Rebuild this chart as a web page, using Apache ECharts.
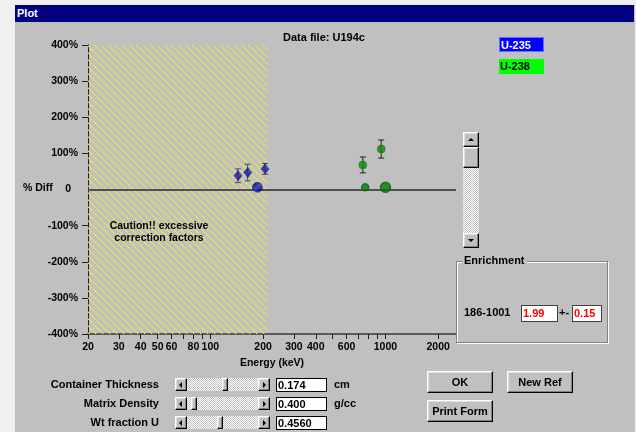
<!DOCTYPE html>
<html>
<head>
<meta charset="utf-8">
<title>Plot</title>
<script src="https://cdn.jsdelivr.net/npm/echarts@6/dist/echarts.min.js"></script>
<style>
html,body{margin:0;padding:0;background:#f0f0f0;}
#win{position:absolute;left:0;top:0;width:636px;height:432px;overflow:hidden;
  font-family:"Liberation Sans",Arial,sans-serif;font-weight:bold;font-size:11px;color:#000;}
#chart{position:absolute;left:0;top:0;width:636px;height:432px;}
.abs{position:absolute;white-space:nowrap;}
.strip{position:absolute;background:#f0f0f0;}
#title{position:absolute;left:15px;top:5px;width:619px;height:17px;background:#000080;color:#fff;
  line-height:17px;padding-left:2px;box-sizing:border-box;}
.legend{position:absolute;width:45px;height:15px;line-height:15px;box-sizing:border-box;padding-left:1px;}
.btn{position:absolute;box-sizing:border-box;background:#c0c0c0;border:1px solid;
  border-color:#fff #000 #000 #fff;box-shadow:inset -1px -1px #808080,inset 1px 1px #dfdfdf;text-align:center;}
.edit{position:absolute;box-sizing:border-box;background:#fff;border:1px solid #000;padding-left:1px;}
.track{position:absolute;box-sizing:border-box;
  background:repeating-conic-gradient(#c0c0c0 0 25%,#ffffff 0 50%) 0 0/2px 2px;}
.tri{position:absolute;width:0;height:0;}
.tl{border-top:3px solid transparent;border-bottom:3px solid transparent;border-right:3px solid #000;}
.tr{border-top:3px solid transparent;border-bottom:3px solid transparent;border-left:3px solid #000;}
.tu{border-left:3px solid transparent;border-right:3px solid transparent;border-bottom:3px solid #000;}
.td{border-left:3px solid transparent;border-right:3px solid transparent;border-top:3px solid #000;}
#grp{position:absolute;left:456px;top:261px;width:152px;height:82px;box-sizing:border-box;
  border:1px solid #808080;box-shadow:1px 1px #fff,inset 1px 1px #fff;}
.lbl{position:absolute;white-space:nowrap;text-align:right;width:120px;line-height:13px;}
</style>
</head>
<body>
<div id="win">
  <div id="chart"></div>

  <div class="strip" style="left:0;top:0;width:15px;height:432px"></div>
  <div class="strip" style="left:0;top:0;width:636px;height:5px"></div>
  <div class="strip" style="left:635px;top:0;width:1px;height:432px"></div>
  <div id="title">Plot</div>

  <div class="abs" style="left:283px;top:31px;line-height:13px">Data file: U194c</div>

  <div class="legend" style="left:499px;top:37px;background:#0000ff;color:#fff;border:1px solid #6a6aff">U-235</div>
  <div class="legend" style="left:499px;top:59px;background:#00ff00;color:#000">U-238</div>

  <!-- vertical scroll bar beside the plot -->
  <div class="track" style="left:463px;top:132px;width:16px;height:116px"></div>
  <div class="btn" style="left:463px;top:132px;width:16px;height:15px"><div class="tri tu" style="left:4px;top:5px"></div></div>
  <div class="btn" style="left:463px;top:147px;width:16px;height:21px"></div>
  <div class="btn" style="left:463px;top:233px;width:16px;height:15px"><div class="tri td" style="left:4px;top:5px"></div></div>

  <!-- enrichment group -->
  <div id="grp"></div>
  <div class="abs" style="left:462px;top:254px;background:#c0c0c0;padding:0 2px;line-height:13px">Enrichment</div>
  <div class="abs" style="left:464px;top:306px;line-height:13px">186-1001</div>
  <div class="edit" style="left:521px;top:305px;width:37px;height:17px;line-height:15px;color:#ff0000;border-color:#404040">1.99</div>
  <div class="abs" style="left:559px;top:306px;line-height:13px">+-</div>
  <div class="edit" style="left:572px;top:305px;width:30px;height:17px;line-height:15px;color:#ff0000;border-color:#404040">0.15</div>

  <!-- sliders -->
  <div class="lbl" style="left:39px;top:378px">Container Thickness</div>
  <div class="lbl" style="left:39px;top:397px">Matrix Density</div>
  <div class="lbl" style="left:39px;top:416px">Wt fraction U</div>

  <div class="track" style="left:175px;top:378px;width:95px;height:13px"></div>
  <div class="btn" style="left:175px;top:378px;width:12px;height:13px"><div class="tri tl" style="left:3px;top:3px"></div></div>
  <div class="btn" style="left:222px;top:378px;width:6px;height:13px"></div>
  <div class="btn" style="left:258px;top:378px;width:12px;height:13px"><div class="tri tr" style="left:4px;top:3px"></div></div>

  <div class="track" style="left:175px;top:397px;width:95px;height:13px"></div>
  <div class="btn" style="left:175px;top:397px;width:12px;height:13px"><div class="tri tl" style="left:3px;top:3px"></div></div>
  <div class="btn" style="left:191px;top:397px;width:6px;height:13px"></div>
  <div class="btn" style="left:258px;top:397px;width:12px;height:13px"><div class="tri tr" style="left:4px;top:3px"></div></div>

  <div class="track" style="left:175px;top:416px;width:95px;height:13px"></div>
  <div class="btn" style="left:175px;top:416px;width:12px;height:13px"><div class="tri tl" style="left:3px;top:3px"></div></div>
  <div class="btn" style="left:217px;top:416px;width:6px;height:13px"></div>
  <div class="btn" style="left:258px;top:416px;width:12px;height:13px"><div class="tri tr" style="left:4px;top:3px"></div></div>

  <div class="edit" style="left:276px;top:378px;width:51px;height:14px;line-height:12px">0.174</div>
  <div class="edit" style="left:276px;top:397px;width:51px;height:14px;line-height:12px">0.400</div>
  <div class="edit" style="left:276px;top:416px;width:51px;height:14px;line-height:12px">0.4560</div>
  <div class="abs" style="left:334px;top:378px;line-height:13px">cm</div>
  <div class="abs" style="left:334px;top:397px;line-height:13px">g/cc</div>

  <div class="btn" style="left:427px;top:371px;width:66px;height:22px;line-height:20px">OK</div>
  <div class="btn" style="left:507px;top:371px;width:66px;height:22px;line-height:20px">New Ref</div>
  <div class="btn" style="left:427px;top:400px;width:66px;height:22px;line-height:20px">Print Form</div>
</div>

<script>
// Axis ticks (keV) and labels
const xTickValues = [20, 30, 40, 50, 60, 70, 80, 90, 100, 200, 300, 400, 500, 600, 700, 800, 900, 1000, 2000];
const xLabelValues = [20, 30, 40, 50, 60, 80, 100, 200, 300, 400, 600, 1000, 2000];
const yTickValues = [-400, -300, -200, -100, 100, 200, 300, 400];

// U-235 peaks: energy (keV), % difference, error
const u235Energy = [143.8, 163.4, 205.3];
const u235Diff = [38, 47, 57];
const u235Err = [19, 23, 15];
// U-235 reference peak
const u235RefEnergy = [185.7];
const u235RefDiff = [6];

// U-238 (Pa-234m) peaks
const u238Energy = [742.8, 946.0];
const u238Diff = [68, 112];
const u238Err = [22, 25];
// U-238 reference peaks
const u238RefEnergy = [766.4, 1001.0];
const u238RefDiff = [6, 6];

// Low-energy region with large correction factors
const cautionLimit = 212;

const FONT = '"Liberation Sans", Arial, sans-serif';

function hatchPattern() {
  const n = 7;
  const c = document.createElement('canvas');
  c.width = n; c.height = n;
  const g = c.getContext('2d');
  for (let i = 0; i < n; i++) {
    g.fillStyle = '#eeea3c';
    g.fillRect(i, i, 1, 1);
    g.fillStyle = 'rgba(230,226,80,0.35)';
    g.fillRect((i + 1) % n, i, 1, 1);
  }
  return { image: c, repeat: 'repeat' };
}

function markerPattern() {
  const c = document.createElement('canvas');
  c.width = 4; c.height = 4;
  const g = c.getContext('2d');
  g.fillStyle = '#000070';
  g.fillRect(0, 0, 4, 4);
  g.fillStyle = '#3a3aff';
  for (let i = 0; i < 4; i++) g.fillRect((3 - i + 4) % 4, i, 1, 1);
  return { image: c, repeat: 'repeat' };
}

function pairs(xs, ys) { return xs.map((x, i) => [x, ys[i]]); }
function errRows(xs, ys, es) { return xs.map((x, i) => [x, ys[i] - es[i], ys[i] + es[i]]); }

function errorBarSeries(rows, color) {
  return {
    type: 'custom',
    z: 4,
    silent: true,
    data: rows,
    encode: { x: 0, y: [1, 2] },
    renderItem: function (params, api) {
      const x = api.value(0);
      const top = api.coord([x, api.value(2)]);
      const bot = api.coord([x, api.value(1)]);
      const cap = 3;
      const st = { stroke: color, lineWidth: 1 };
      return {
        type: 'group',
        children: [
          { type: 'line', shape: { x1: top[0], y1: top[1], x2: bot[0], y2: bot[1] }, style: st },
          { type: 'line', shape: { x1: top[0] - cap, y1: top[1], x2: top[0] + cap, y2: top[1] }, style: st },
          { type: 'line', shape: { x1: bot[0] - cap, y1: bot[1], x2: bot[0] + cap, y2: bot[1] }, style: st }
        ]
      };
    }
  };
}

const chart = echarts.init(document.getElementById('chart'), null, { renderer: 'canvas', width: 636, height: 432 });
const blueFill = markerPattern();

chart.setOption({
  animation: false,
  backgroundColor: '#c0c0c0',
  grid: { left: 88, top: 45, width: 368, height: 289 },
  xAxis: {
    type: 'log',
    logBase: 10,
    min: 20,
    max: 2530,
    axisLine: { show: true, onZero: false, lineStyle: { color: '#5a5a5a', width: 2 } },
    axisTick: { show: true, length: 5, customValues: xTickValues, lineStyle: { color: '#202020' } },
    minorTick: { show: false },
    splitLine: { show: false },
    axisLabel: {
      customValues: xLabelValues,
      margin: 8,
      color: '#000',
      fontWeight: 'bold',
      fontSize: 10.5,
      fontFamily: FONT,
      formatter: v => String(Math.round(v))
    },
    name: 'Energy (keV)',
    nameLocation: 'middle',
    nameGap: 20,
    nameTextStyle: { color: '#000', fontWeight: 'bold', fontSize: 10.5, fontFamily: FONT }
  },
  yAxis: {
    type: 'value',
    min: -400,
    max: 400,
    interval: 100,
    axisLine: { show: true, onZero: false, lineStyle: { color: '#202020', width: 1 } },
    axisTick: { show: true, length: 6, customValues: yTickValues, lineStyle: { color: '#202020' } },
    splitLine: { show: false },
    axisLabel: {
      margin: 10,
      color: '#000',
      fontWeight: 'bold',
      fontSize: 10.5,
      fontFamily: FONT,
      formatter: v => (v === 0 ? '{z|0}' : v + '%'),
      rich: { z: { padding: [0, 7, 0, 0], fontWeight: 'bold', fontSize: 10.5, fontFamily: FONT, color: '#000' } }
    }
  },
  graphic: [
    { type: 'text', left: 23, top: 183, z: 10,
      style: { text: '% Diff', fill: '#000', font: 'bold 10.5px ' + FONT } },
    { type: 'text', x: 159, y: 220, z: 10,
      style: { text: 'Caution!! excessive\ncorrection factors', fill: '#000', align: 'center',
               lineHeight: 12, font: 'bold 10.5px ' + FONT } }
  ],
  series: [
    {
      // zero reference line
      type: 'line',
      z: 1,
      data: [],
      markLine: {
        silent: true,
        symbol: ['none', 'none'],
        label: { show: false },
        lineStyle: { color: '#505050', width: 2, type: 'solid' },
        data: [{ yAxis: 0 }]
      }
    },
    {
      // hatched caution region
      type: 'line',
      z: 3,
      data: [],
      markArea: {
        silent: true,
        itemStyle: { color: hatchPattern() },
        data: [[{ xAxis: 20, yAxis: -400 }, { xAxis: cautionLimit, yAxis: 400 }]]
      }
    },
    errorBarSeries(errRows(u235Energy, u235Diff, u235Err), '#4a4a4a'),
    errorBarSeries(errRows(u238Energy, u238Diff, u238Err), '#202020'),
    {
      name: 'U-235',
      type: 'scatter',
      z: 6,
      symbol: 'diamond',
      symbolSize: [8, 10],
      itemStyle: { color: blueFill, borderColor: '#000060', borderWidth: 0.5 },
      data: pairs(u235Energy, u235Diff)
    },
    {
      name: 'U-235 ref',
      type: 'scatter',
      z: 6,
      symbol: 'circle',
      symbolSize: 10,
      itemStyle: { color: blueFill, borderColor: '#000060', borderWidth: 0.5 },
      data: pairs(u235RefEnergy, u235RefDiff)
    },
    {
      name: 'U-238',
      type: 'scatter',
      z: 6,
      symbol: 'circle',
      symbolSize: 8,
      itemStyle: { color: '#0a8a0a', borderColor: '#0a6a0a', borderWidth: 0.5 },
      data: pairs(u238Energy, u238Diff)
    },
    {
      name: 'U-238 ref',
      type: 'scatter',
      z: 6,
      symbol: 'circle',
      symbolSize: function (v, p) { return p.dataIndex === 1 ? 10 : 7; },
      itemStyle: {
        color: '#0a7a0a',
        borderWidth: 1.5,
        borderColor: function (p) { return p.dataIndex === 1 ? '#d4d400' : '#8a9a8a'; }
      },
      data: pairs(u238RefEnergy, u238RefDiff)
    }
  ]
});
</script>
</body>
</html>
